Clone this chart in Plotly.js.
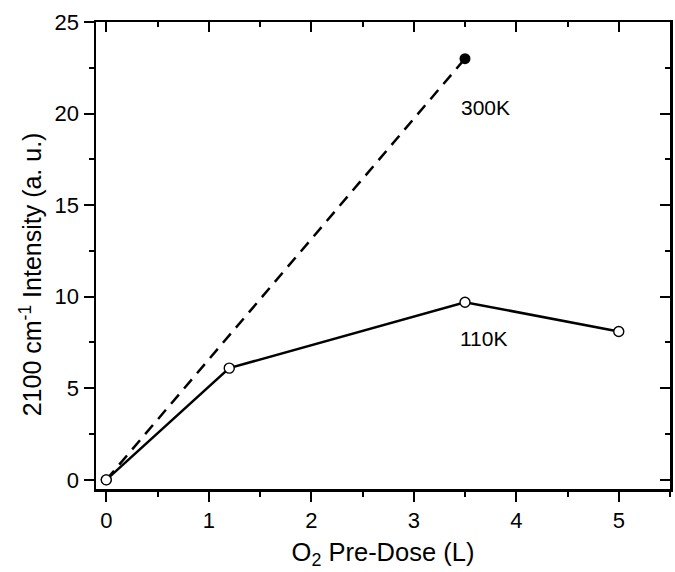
<!DOCTYPE html>
<html>
<head>
<meta charset="utf-8">
<script src="https://cdn.plot.ly/plotly-3.0.1.min.js"></script>
<style>html,body{margin:0;padding:0;background:#fff;}</style>
</head>
<body>
<div id="chart" style="width:675px;height:572px;"></div>
<script>
const dose300 = [0, 3.5];
const int300 = [0, 23];
const dose110 = [0, 1.2, 3.5, 5];
const int110 = [0, 6.1, 9.7, 8.1];
const seriesLabels = ["300K", "110K"];
const labelX = [3.7, 3.69];
const labelY = [20.35, 7.7];
const xTitle = "O<sub>2</sub> Pre-Dose (L)";
const yTitle = "2100 cm<sup>-1</sup> Intensity (a. u.)";

const xRange = [-0.1, 5.5];
const yRange = [-0.5, 25];
const font = {family: "Liberation Sans, Arial, sans-serif", color: "#000"};

const traces = [
  {x: dose300, y: int300, mode: "lines+markers", name: seriesLabels[0],
   line: {color: "#000", width: 2.5, dash: "12px,8px"},
   marker: {color: "#000", size: 11, symbol: "circle"}},
  {x: dose110, y: int110, mode: "lines+markers", name: seriesLabels[1],
   line: {color: "#000", width: 2.5},
   marker: {color: "#fff", size: 10, symbol: "circle", line: {color: "#000", width: 1.4}}},
  {x: [null], y: [null], xaxis: "x2", yaxis: "y2", showlegend: false, hoverinfo: "skip", mode: "markers"}
];

const axisCommon = {showgrid: false, zeroline: false, linecolor: "#000", linewidth: 2.5,
  tickcolor: "#000", tickwidth: 2, ticklen: 10, showline: true};

const layout = {
  width: 675, height: 572,
  margin: {l: 96, r: 5, t: 22, b: 83},
  paper_bgcolor: "#fff", plot_bgcolor: "#fff",
  showlegend: false,
  font: Object.assign({size: 22}, font),
  xaxis: Object.assign({}, axisCommon, {range: xRange, dtick: 1, ticks: "outside",
    tickfont: Object.assign({size: 22}, font),
    minor: {dtick: 0.5, ticks: "outside", ticklen: 5, tickwidth: 2, tickcolor: "#000"},
    title: {text: xTitle, font: Object.assign({size: 25.5}, font), standoff: 11}}),
  yaxis: Object.assign({}, axisCommon, {range: yRange, dtick: 5, ticks: "outside",
    tickfont: Object.assign({size: 22}, font),
    minor: {dtick: 2.5, ticks: "outside", ticklen: 5, tickwidth: 2, tickcolor: "#000"}}),
  xaxis2: Object.assign({}, axisCommon, {range: xRange, dtick: 1, ticks: "inside", overlaying: "x", side: "top",
    showticklabels: false,
    minor: {dtick: 0.5, ticks: "inside", ticklen: 5, tickwidth: 2, tickcolor: "#000"}}),
  yaxis2: Object.assign({}, axisCommon, {range: yRange, dtick: 5, ticks: "inside", overlaying: "y", side: "right",
    showticklabels: false,
    minor: {dtick: 2.5, ticks: "inside", ticklen: 5, tickwidth: 2, tickcolor: "#000"}}),
  annotations: seriesLabels.map((t, i) => ({x: labelX[i], y: labelY[i], xref: "x", yref: "y",
    text: t, showarrow: false, font: Object.assign({size: 21}, font)})).concat([
    {x: -0.113, y: 0.46, xref: "paper", yref: "paper", text: yTitle, textangle: -90,
     showarrow: false, xanchor: "center", yanchor: "middle", font: Object.assign({size: 25}, font)}
  ])
};

Plotly.newPlot("chart", traces, layout, {displayModeBar: false, staticPlot: true});
</script>
</body>
</html>
